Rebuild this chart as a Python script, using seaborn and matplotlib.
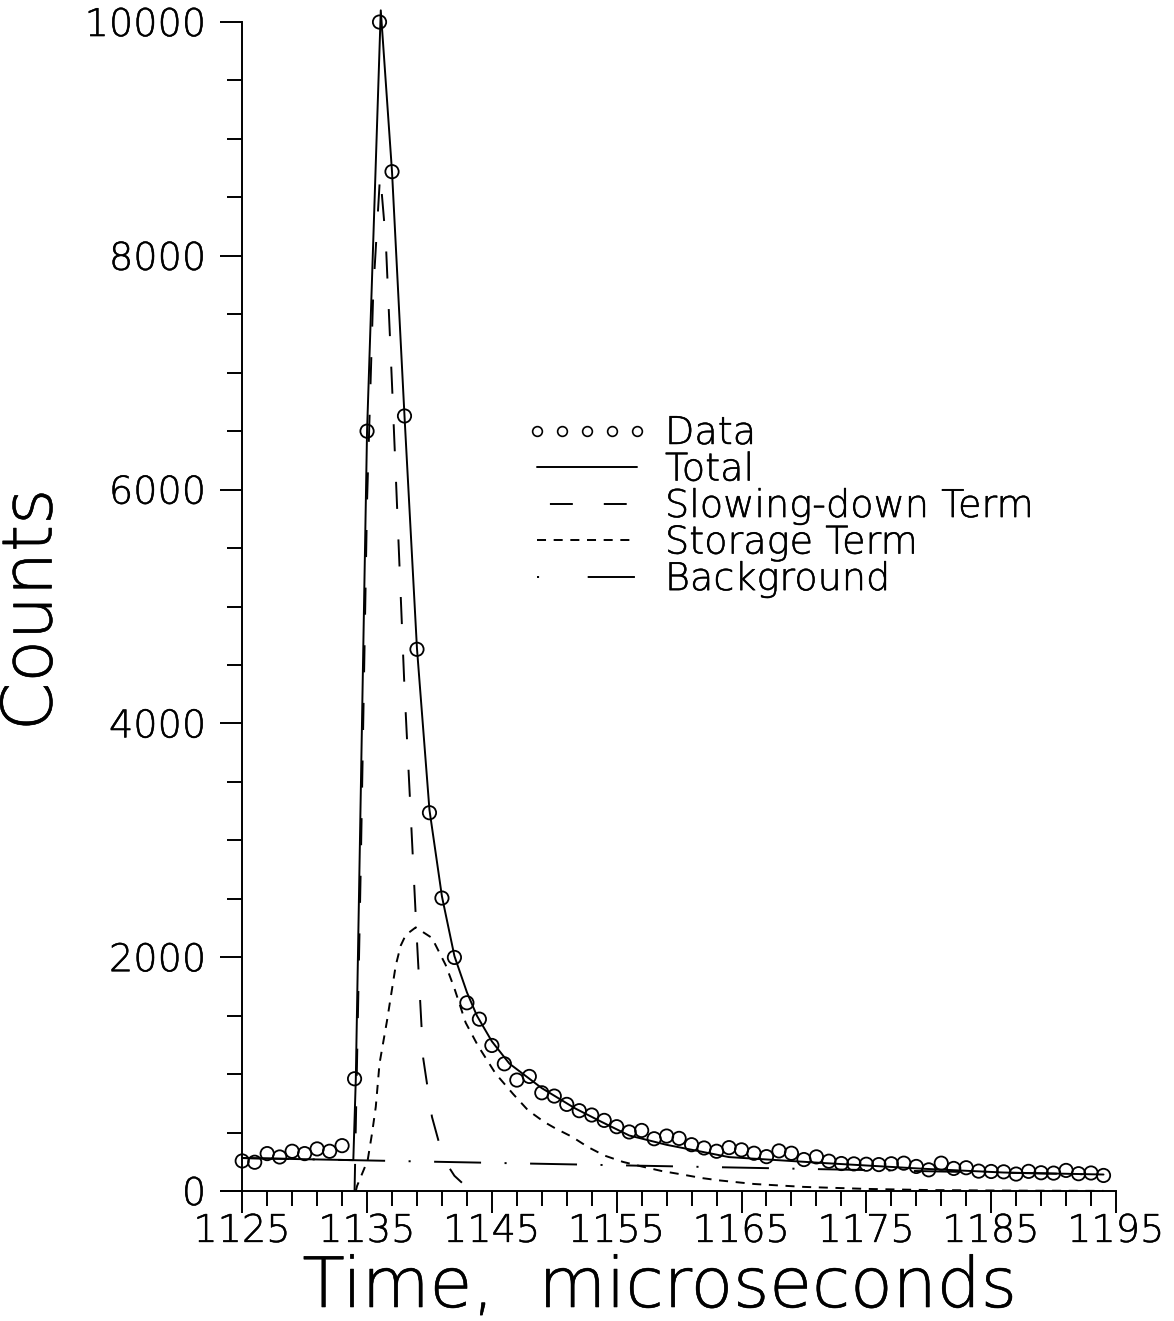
import matplotlib
matplotlib.use("Agg")
import matplotlib.pyplot as plt
import matplotlib.patheffects as pe
import seaborn as sns
import pandas as pd
from matplotlib.lines import Line2D
from matplotlib.legend_handler import HandlerLine2D
from matplotlib.ticker import FixedLocator

# ---------------- data ----------------
time_us = list(range(1125, 1195))
counts = [257, 246, 320, 291, 340, 320, 360, 340, 388, 960,
          6500, 10000, 8720, 6630, 4634, 3236, 2506, 1998, 1610, 1470,
          1245, 1088, 949, 980, 840, 812, 741, 687, 650, 604,
          550, 505, 518, 447, 470, 450, 396, 368, 340, 371,
          352, 323, 294, 343, 323, 269, 292, 255, 235, 232,
          229, 226, 233, 238, 210, 181, 238, 193, 199, 170,
          167, 164, 145, 168, 156, 153, 176, 148, 154, 133]

total_t = [1125, 1130, 1133.9, 1134.1, 1135.0, 1136.1, 1137, 1138, 1139, 1140,
           1141, 1142, 1143, 1143.8, 1145, 1146.4, 1149, 1151.7, 1153.7, 1156,
           1159, 1164, 1171.6, 1179.6, 1186, 1194]
total_c = [282, 272, 264, 960, 6500, 10100, 8720, 6630, 4640, 3260,
           2520, 2010, 1700, 1500, 1280, 1090, 880, 705, 596, 475,
           395, 290, 239, 190, 158, 141]

slow_t = [1134.0, 1134.5, 1135.0, 1135.5, 1136.05, 1136.5, 1137.0, 1137.3,
          1138.0, 1139.0, 1139.5, 1140.2, 1140.8, 1141.2, 1142.0, 1142.6]
slow_c = [0, 2800, 5900, 7700, 8700, 8130, 6900, 6130,
          4300, 2140, 1135, 634, 400, 263, 130, 71]

stor_t = [1134.1, 1134.2, 1135.05, 1135.4, 1135.7, 1136.0, 1136.6, 1137.3, 1137.7,
          1138.1, 1138.9, 1140.2, 1141.3, 1142.0, 1142.9, 1143.9, 1145.3, 1146.7,
          1147.9, 1149.2, 1150.1, 1151.4, 1152.7, 1154.0, 1155.5, 1157.0, 1158.6,
          1160.2, 1161.8, 1163.2, 1166, 1170, 1175, 1180, 1187, 1194]
stor_c = [0, 43, 263, 493, 720, 1091, 1457, 1930, 2100,
          2190, 2255, 2165, 1933, 1733, 1440, 1240, 1004, 830,
          690, 590, 535, 465, 376, 304, 249, 210, 171,
          142, 111, 91, 60, 35, 18, 8, 3, 1]

bg_t = [1125, 1194]
bg_c = [282, 140]

legend_labels = ["Data", "Total", "Slowing-down Term", "Storage Term", "Background"]
x_major = list(range(1125, 1196, 10))
x_minor = list(range(1125, 1196, 2))
y_major = list(range(0, 10001, 2000))
y_minor = list(range(0, 10001, 500))

# ---------------- style ----------------
sns.set_theme(style="ticks")
plt.rcParams["font.family"] = ["DejaVu Sans"]
plt.rcParams["font.weight"] = 200
plt.rcParams["axes.labelweight"] = 200
plt.rcParams["lines.scale_dashes"] = False
for k in ["text.color", "axes.labelcolor", "xtick.color", "ytick.color"]:
    plt.rcParams[k] = "black"

W, H = 1174, 1321
AX_L = 221
fig = plt.figure(figsize=(W / 100, H / 100), dpi=100)
fig.patch.set_facecolor("white")
ax = fig.add_axes([AX_L / W, 130 / H, 895 / W, 1186.5 / H])
ax.set_facecolor("white")

LW = 1.4
ls_slow = (0, (19.5, 22))
ls_stor = (0, (6.5, 5.5))
ls_bg = (0, (33.8, 16.9, 1.5, 16.9))

df_data = pd.DataFrame({"t": time_us, "c": counts})
sns.scatterplot(data=df_data, x="t", y="c", ax=ax, marker="o", s=92,
                facecolor="none", edgecolor="black", color="black",
                linewidth=1.3, zorder=5, clip_on=False)

sns.lineplot(x=total_t, y=total_c, ax=ax, color="black", lw=LW,
             estimator=None, sort=False)
sns.lineplot(x=slow_t, y=slow_c, ax=ax, color="black", lw=LW,
             linestyle=ls_slow, estimator=None, sort=False, clip_on=False)
sns.lineplot(x=stor_t, y=stor_c, ax=ax, color="black", lw=LW,
             linestyle=ls_stor, estimator=None, sort=False, clip_on=False)
sns.lineplot(x=bg_t, y=bg_c, ax=ax, color="black", lw=LW,
             linestyle=ls_bg, estimator=None, sort=False)

ax.set_xlim(1123.3, 1195)
ax.set_ylim(0, 10150)

for s in ["top", "right"]:
    ax.spines[s].set_visible(False)
for s in ["left", "bottom"]:
    ax.spines[s].set_color("black")
    ax.spines[s].set_linewidth(LW)
ax.spines["left"].set_position(("data", 1125))
ax.spines["left"].set_bounds(0, 10000)

ax.xaxis.set_major_locator(FixedLocator(x_major))
ax.xaxis.set_minor_locator(FixedLocator(x_minor))
ax.yaxis.set_major_locator(FixedLocator(y_major))
ax.yaxis.set_minor_locator(FixedLocator(y_minor))
ax.tick_params(which="major", direction="out", length=16, width=LW, labelsize=27.5)
ax.tick_params(which="minor", direction="out", length=10.5, width=LW)
ax.tick_params(axis="x", which="major", pad=0.5)
ax.tick_params(axis="y", which="major", pad=10)

ax.set_xlabel("Time,  microseconds", fontsize=50, fontweight=200)
ax.set_ylabel("Counts", fontsize=50, fontweight=200)
ax.xaxis.set_label_coords((660 - AX_L) / 895, -0.0531)
ax.yaxis.set_label_coords((66 - AX_L) / 895, 0.49)

# legend
h_data = Line2D([], [], ls="none", marker="o", ms=7, mfc="none", mec="black", mew=1.2)
h_total = Line2D([], [], color="black", lw=LW)
h_slow = Line2D([], [], color="black", lw=LW, ls=(29.5, (16.5, 22.3)))
h_stor = Line2D([], [], color="black", lw=LW, ls=ls_stor)
h_bg = Line2D([], [], color="black", lw=LW, ls=(0, (1.5, 35, 34, 20)))
leg = ax.legend([h_data, h_total, h_slow, h_stor, h_bg], legend_labels,
                loc="upper left", bbox_to_anchor=(537 / W, 1 - 416 / H),
                bbox_transform=fig.transFigure, frameon=False,
                prop={"size": 27.5, "weight": 200},
                handlelength=2.62, handletextpad=0.73, labelspacing=0.04,
                borderpad=0, borderaxespad=0,
                handler_map={h_data: HandlerLine2D(numpoints=5, marker_pad=0)})

fig.canvas.draw()
for lab in ax.get_xticklabels() + ax.get_yticklabels():
    lab.set_path_effects([pe.withStroke(linewidth=0.35, foreground="black")])
for t in leg.get_texts():
    t.set_path_effects([pe.withStroke(linewidth=0.35, foreground="black")])
for t in [ax.xaxis.label, ax.yaxis.label]:
    t.set_path_effects([pe.withStroke(linewidth=0.4, foreground="black")])

fig.savefig("out.png", dpi=100, facecolor="white")
